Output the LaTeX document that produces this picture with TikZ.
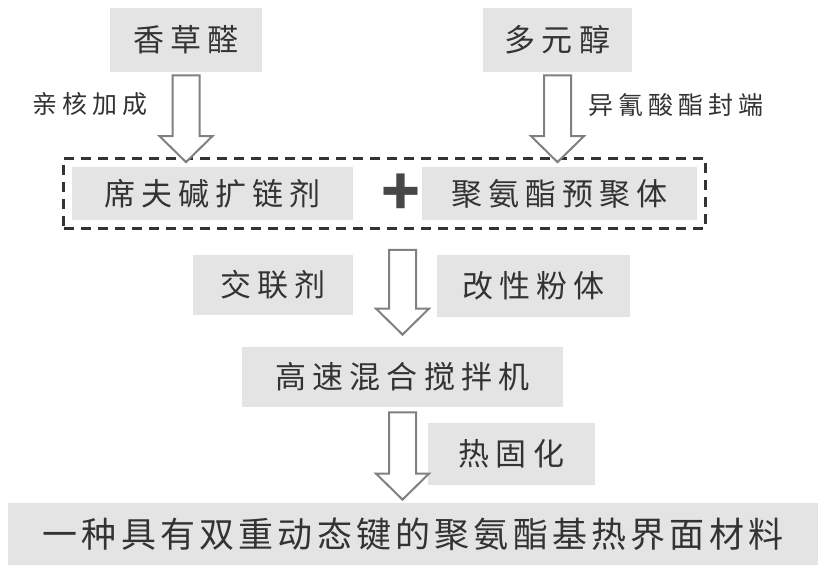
\documentclass[tikz,border=0pt]{standalone}
\usepackage{fontspec}
\usepackage{xcolor}
\usepackage{tikz}
\usetikzlibrary{calc,fit}
\newfontfamily\cjk[LetterSpace=20]{Noto Sans CJK SC}
\newfontfamily\cjkbig[LetterSpace=12]{Noto Sans CJK SC}
\newfontfamily\plusfont{Noto Sans CJK SC}
\definecolor{BoxGray}{HTML}{E4E4E4}
\definecolor{InkGray}{HTML}{333333}
\definecolor{ArrowGray}{HTML}{808080}
\newcommand{\hollowarrow}[2]{%
  \draw[hollow] ($(#1)+(-13.5,0)$) -- ($(#2)+(-13.5,-26)$) -- ($(#2)+(-26.5,-26)$) -- (#2)
    -- ($(#2)+(26.5,-26)$) -- ($(#2)+(13.5,-26)$) -- ($(#1)+(13.5,0)$) -- cycle;}

\begin{document}
\begin{tikzpicture}[
x=0.5pt,y=-0.5pt,
box/.style={fill=BoxGray,text=InkGray,inner sep=0pt,font=\cjk\fontsize{15.5}{15.5}\selectfont},
big/.style={font=\cjkbig\fontsize{17.5}{17.5}\selectfont},
lab/.style={text=InkGray,inner sep=0pt,font=\cjk\fontsize{12.5}{12.5}\selectfont},
plus/.style={text=InkGray!90,inner sep=0pt,font=\plusfont\bfseries\fontsize{32}{32}\selectfont},
dashbox/.style={draw=InkGray,line width=1.5pt,dash pattern=on 5pt off 3.5pt,inner sep=4pt},
hollow/.style={draw=ArrowGray,fill=white,line width=1pt,line join=miter}
]
\useasboundingbox (0,0) rectangle (829,577);
\node[box,minimum width=76pt,minimum height=32pt] (vanillin) at (186,40) {香草醛};
\node[box,minimum width=74.5pt,minimum height=32pt] (polyol) at (557.5,40) {多元醇};
\node[lab] (nucadd) at (90,104) {亲核加成};
\node[lab] (endcap) at (676,105) {异氰酸酯封端};
\node[box,minimum width=140.5pt,minimum height=26.5pt] (schiff) at (212.5,193.5) {席夫碱扩链剂};
\node[box,minimum width=137.5pt,minimum height=26.5pt] (prepoly) at (559.5,193.5) {聚氨酯预聚体};
\node[plus] (plus) at (401,195) {+};
\node[dashbox,fit=(schiff)(prepoly)] (premix) {};
\node[box,minimum width=80pt,minimum height=30pt] (crosslink) at (273,285) {交联剂};
\node[box,minimum width=96.5pt,minimum height=31pt] (powder) at (533.5,286) {改性粉体};
\node[box,minimum width=160.5pt,minimum height=30pt] (mixer) at (402.5,377) {高速混合搅拌机};
\node[box,minimum width=83.5pt,minimum height=31pt] (curing) at (511.5,454) {热固化};
\node[box,big,minimum width=405pt,minimum height=31pt] (product) at (413,534) {一种具有双重动态键的聚氨酯基热界面材料};
\coordinate (a1s) at ($(vanillin.south)+(0,3)$);
\coordinate (a1e) at ($(vanillin.south |- premix.north)+(0,5)$);
\coordinate (a2s) at ($(polyol.south)+(0,3)$);
\coordinate (a2e) at ($(polyol.south |- premix.north)+(0,5)$);
\coordinate (a3s) at ($(mixer.north |- premix.south)+(0,20)$);
\coordinate (a3e) at ($(mixer.north)+(0,-12)$);
\coordinate (a4s) at ($(mixer.south)+(0,5)$);
\coordinate (a4e) at ($(mixer.south |- product.north)+(0,-3)$);
\hollowarrow{a1s}{a1e}
\hollowarrow{a2s}{a2e}
\hollowarrow{a3s}{a3e}
\hollowarrow{a4s}{a4e}
\end{tikzpicture}
\end{document}
